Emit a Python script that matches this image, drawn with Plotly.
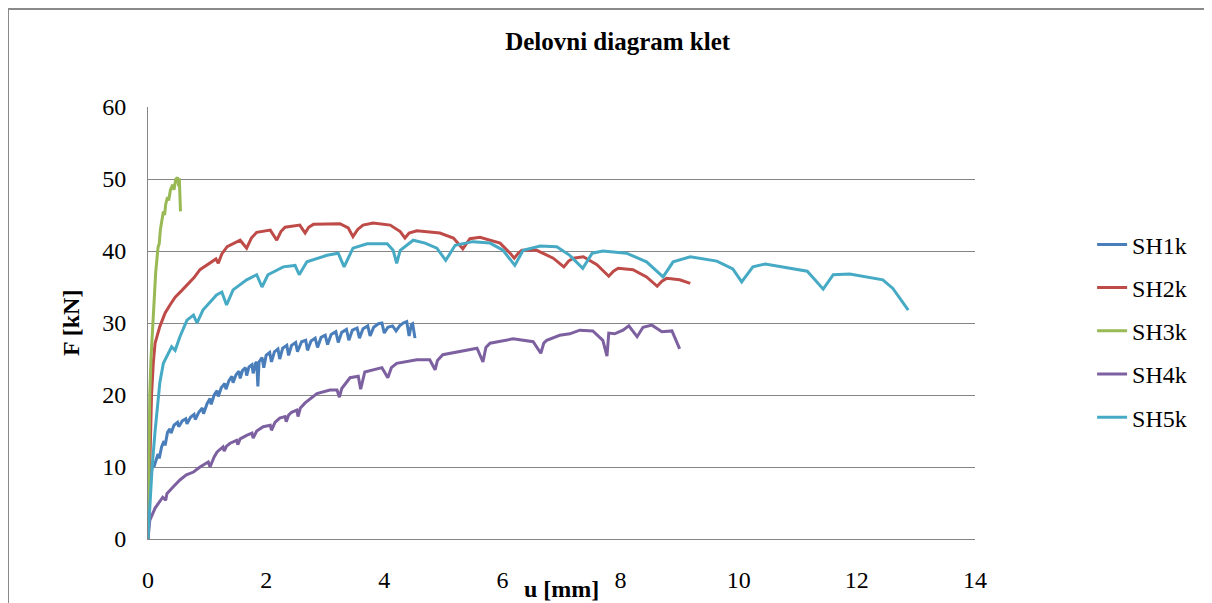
import plotly.graph_objects as go

# ---- data (u [mm], F [kN]) ----
sh1k_u = [0, 0.02, 0.05, 0.08, 0.10, 0.14, 0.17, 0.19, 0.23, 0.27, 0.29, 0.33, 0.37, 0.39, 0.44, 0.50, 0.52,
          0.58, 0.64, 0.66, 0.72, 0.78, 0.80, 0.86, 0.92, 0.94, 1.00, 1.05, 1.07, 1.12, 1.17, 1.19, 1.24,
          1.30, 1.32, 1.37, 1.42, 1.44, 1.49, 1.54, 1.56, 1.60, 1.65, 1.67, 1.71, 1.76, 1.78, 1.82, 1.84,
          1.86, 1.88, 1.93, 1.96, 2.00, 2.06, 2.09, 2.14, 2.20, 2.23, 2.28, 2.35, 2.38, 2.43, 2.50, 2.53,
          2.60, 2.67, 2.70, 2.76, 2.83, 2.87, 2.93, 3.00, 3.04, 3.10, 3.18, 3.22, 3.28, 3.36, 3.40, 3.46,
          3.54, 3.58, 3.64, 3.72, 3.76, 3.82, 3.90, 3.96, 4.00, 4.06, 4.14, 4.20, 4.26, 4.32, 4.38, 4.42,
          4.46, 4.48, 4.52]
sh1k_f = [0, 5.0, 9.0, 10.3, 10.0, 11.2, 11.8, 11.2, 12.8, 13.6, 13.0, 14.8, 15.3, 14.7, 15.8, 16.2, 15.6,
          16.4, 16.7, 16.0, 16.9, 17.3, 16.6, 17.6, 18.2, 17.4, 18.8, 19.5, 18.7, 20.0, 20.6, 19.8, 21.0,
          21.6, 20.8, 22.0, 22.6, 21.7, 22.8, 23.3, 22.3, 23.4, 23.8, 22.7, 23.9, 24.2, 23.0, 24.4, 24.6,
          21.2, 24.6, 25.2, 23.8, 25.5, 25.9, 24.6, 26.0, 26.4, 25.0, 26.5, 26.9, 25.5, 26.9, 27.3, 26.0,
          27.4, 27.6, 26.2, 27.5, 27.9, 26.6, 28.0, 28.3, 27.0, 28.4, 28.8, 27.3, 28.7, 29.1, 27.6, 29.0,
          29.3, 27.9, 29.2, 29.6, 28.2, 29.4, 29.9, 30.0, 28.6, 29.4, 29.6, 28.9, 29.6, 30.0, 30.2, 28.2,
          29.8, 29.9, 27.9]

sh2k_u = [0, 0.02, 0.04, 0.06, 0.09, 0.12, 0.20, 0.29, 0.38, 0.46, 0.57, 0.68, 0.78, 0.88, 1.05, 1.15,
          1.19, 1.25, 1.34, 1.56, 1.67, 1.75, 1.84, 2.07, 2.18, 2.25, 2.32, 2.57, 2.66, 2.72, 2.80, 3.25,
          3.39, 3.47, 3.55, 3.64, 3.81, 4.10, 4.27, 4.35, 4.42, 4.55, 4.94, 5.17, 5.33, 5.40, 5.45, 5.62,
          5.96, 6.13, 6.20, 6.27, 6.33, 6.58, 6.86, 7.04, 7.12, 7.20, 7.37, 7.60, 7.80, 7.88, 7.96, 8.21,
          8.44, 8.62, 8.70, 8.78, 9.00, 9.18]
sh2k_f = [0, 8.0, 15.0, 20.0, 24.5, 27.2, 29.5, 31.4, 32.6, 33.6, 34.5, 35.5, 36.3, 37.4, 38.3, 38.9,
          38.3, 39.6, 40.6, 41.5, 40.4, 41.8, 42.6, 42.9, 41.5, 42.7, 43.3, 43.6, 42.5, 43.3, 43.7, 43.8,
          43.2, 42.0, 43.0, 43.6, 43.9, 43.6, 42.7, 41.8, 42.5, 42.8, 42.5, 41.8, 40.3, 41.2, 41.7, 41.9,
          41.1, 39.7, 39.0, 39.7, 40.1, 40.1, 39.0, 37.8, 38.6, 39.0, 39.2, 38.1, 36.5, 37.2, 37.6, 37.4,
          36.4, 35.1, 35.8, 36.2, 36.0, 35.5]

sh3k_u = [0, 0.01, 0.02, 0.03, 0.05, 0.08, 0.10, 0.13, 0.17, 0.19, 0.21, 0.24, 0.26, 0.28, 0.30, 0.33,
          0.35, 0.38, 0.42, 0.44, 0.47, 0.50, 0.52, 0.53, 0.55]
sh3k_f = [0, 8.0, 15.0, 20.0, 25.0, 30.0, 33.0, 37.0, 40.5, 41.0, 43.0, 44.5, 45.5, 45.0, 46.5, 47.5,
          47.0, 48.5, 49.2, 48.5, 50.0, 50.2, 49.0, 50.1, 45.5]

sh4k_u = [0, 0.03, 0.12, 0.25, 0.30, 0.32, 0.42, 0.54, 0.65, 0.77, 0.88, 1.02, 1.05, 1.12, 1.17, 1.27,
          1.29, 1.33, 1.39, 1.50, 1.52, 1.56, 1.67, 1.76, 1.78, 1.84, 1.95, 2.07, 2.09, 2.15, 2.23, 2.32,
          2.34, 2.38, 2.43, 2.52, 2.54, 2.58, 2.66, 2.86, 3.08, 3.20, 3.24, 3.28, 3.42, 3.56, 3.60, 3.67,
          3.96, 4.06, 4.12, 4.21, 4.55, 4.77, 4.86, 4.90, 4.99, 5.33, 5.57, 5.67, 5.72, 5.79, 6.18, 6.52,
          6.65, 6.70, 6.75, 6.97, 7.14, 7.31, 7.53, 7.70, 7.77, 7.80, 7.90, 8.04, 8.14, 8.28, 8.38, 8.53,
          8.70, 8.87, 9.00]
sh4k_f = [0, 2.6, 4.3, 5.8, 5.4, 6.3, 7.2, 8.2, 8.9, 9.3, 10.0, 10.7, 10.0, 11.4, 12.1, 12.8,
          12.2, 12.9, 13.3, 13.7, 13.1, 13.9, 14.4, 14.7, 14.0, 15.0, 15.6, 15.8, 15.1, 16.2, 16.8, 17.0,
          16.3, 17.2, 17.6, 17.9, 17.0, 18.2, 18.9, 20.2, 20.7, 20.7, 19.7, 20.9, 22.4, 22.6, 20.8, 23.2,
          23.8, 22.4, 23.8, 24.4, 24.9, 24.9, 23.5, 24.8, 25.6, 26.1, 26.5, 24.6, 26.6, 27.2, 27.8, 27.4,
          25.8, 27.2, 27.6, 28.3, 28.5, 29.0, 28.9, 27.6, 25.4, 28.6, 28.5, 29.0, 29.6, 28.1, 29.4, 29.7,
          28.8, 28.9, 26.4]

sh5k_u = [0, 0.03, 0.07, 0.12, 0.17, 0.20, 0.26, 0.40, 0.46, 0.54, 0.66, 0.77, 0.83, 0.93, 1.16, 1.25,
          1.33, 1.44, 1.67, 1.84, 1.93, 2.03, 2.29, 2.49, 2.56, 2.69, 3.03, 3.22, 3.32, 3.47, 3.71, 4.05,
          4.15, 4.21, 4.27, 4.49, 4.69, 4.89, 5.04, 5.20, 5.50, 5.79, 6.01, 6.21, 6.35, 6.64, 6.92, 7.14,
          7.36, 7.52, 7.70, 8.10, 8.44, 8.72, 8.89, 9.18, 9.63, 9.90, 10.05, 10.24, 10.45, 10.82, 11.16,
          11.29, 11.43, 11.60, 11.88, 12.44, 12.61, 12.87]
sh5k_f = [0, 5.0, 10.0, 15.0, 19.0, 21.7, 24.4, 26.7, 26.2, 28.1, 30.4, 31.1, 30.0, 31.8, 33.9, 34.3,
          32.5, 34.6, 36.0, 36.7, 35.0, 36.7, 37.8, 38.0, 36.7, 38.5, 39.4, 39.7, 37.8, 40.4, 41.0, 41.0,
          40.1, 38.3, 40.1, 41.5, 41.1, 40.4, 38.7, 40.8, 41.3, 41.1, 40.1, 38.0, 40.1, 40.7, 40.6, 39.4,
          37.6, 39.7, 40.0, 39.7, 38.5, 36.4, 38.5, 39.2, 38.6, 37.5, 35.7, 37.8, 38.2, 37.7, 37.2,
          36.0, 34.7, 36.7, 36.8, 36.0, 34.8, 31.8]

series = [
    ("SH1k", sh1k_u, sh1k_f, "#4A7EBB"),
    ("SH2k", sh2k_u, sh2k_f, "#BE4B48"),
    ("SH3k", sh3k_u, sh3k_f, "#98B954"),
    ("SH4k", sh4k_u, sh4k_f, "#7D60A0"),
    ("SH5k", sh5k_u, sh5k_f, "#46AAC5"),
]

x_ticks = [0, 2, 4, 6, 8, 10, 12, 14]
y_ticks = [0, 10, 20, 30, 40, 50, 60]

SERIF = "Liberation Serif"

# plot area in svg pixels: x 140..967, y 99..531 (page is offset by 8 px)
PX0, PW, PY1, PH = 140, 827, 531, 432


def px(x):
    return (x - PX0) / PW


def py(y):
    return (PY1 - y) / PH


fig = go.Figure()
for name, u, f, col in series:
    fig.add_trace(go.Scatter(x=u, y=f, mode="lines", name=name, legendgroup=name,
                             line=dict(color=col, width=3)))

fig.update_layout(
    width=1212, height=603,
    margin=dict(l=140, r=245, t=99, b=72),
    paper_bgcolor="white", plot_bgcolor="white",
    font=dict(family=SERIF, color="black", size=24),
    title=dict(text="<b>Delovni diagram klet</b>", x=0.503, xanchor="center", y=0.945, yanchor="middle",
               font=dict(family=SERIF, size=25, color="black", weight="bold")),
    showlegend=True,
    legend=dict(x=1.1416, xanchor="left", y=0.482, yanchor="middle", traceorder="grouped",
                tracegroupgap=9, font=dict(family=SERIF, size=24, color="black"),
                bgcolor="rgba(0,0,0,0)"),
    xaxis=dict(range=[0, 14], tickvals=x_ticks, showgrid=False, zeroline=False,
               showline=True, linecolor="#868686", linewidth=1, ticks="", ticklabelstandoff=19,
               tickfont=dict(family=SERIF, size=24)),
    yaxis=dict(range=[0, 60], tickvals=y_ticks, showgrid=True, gridcolor="#868686", gridwidth=1,
               zeroline=False, showline=True, linecolor="#868686", linewidth=1, ticks="",
               ticklabelstandoff=16, tickfont=dict(family=SERIF, size=24)),
    annotations=[
        dict(text="<b>u [mm]</b>", xref="paper", yref="paper", x=px(553), y=py(581),
             xanchor="center", yanchor="middle", showarrow=False, font=dict(family=SERIF, size=24)),
        dict(text="<b>F [kN]</b>", xref="paper", yref="paper", x=px(63), y=py(315),
             xanchor="center", yanchor="middle", textangle=-90, showarrow=False,
             font=dict(family=SERIF, size=24)),
    ],
    shapes=[
        dict(type="rect", xref="paper", yref="paper", x0=px(0), x1=1.6,
             y0=py(640), y1=py(1), line=dict(color="#8a8a8a", width=2),
             fillcolor="rgba(0,0,0,0)", layer="below"),
    ],
)

fig.write_html("out.html")
